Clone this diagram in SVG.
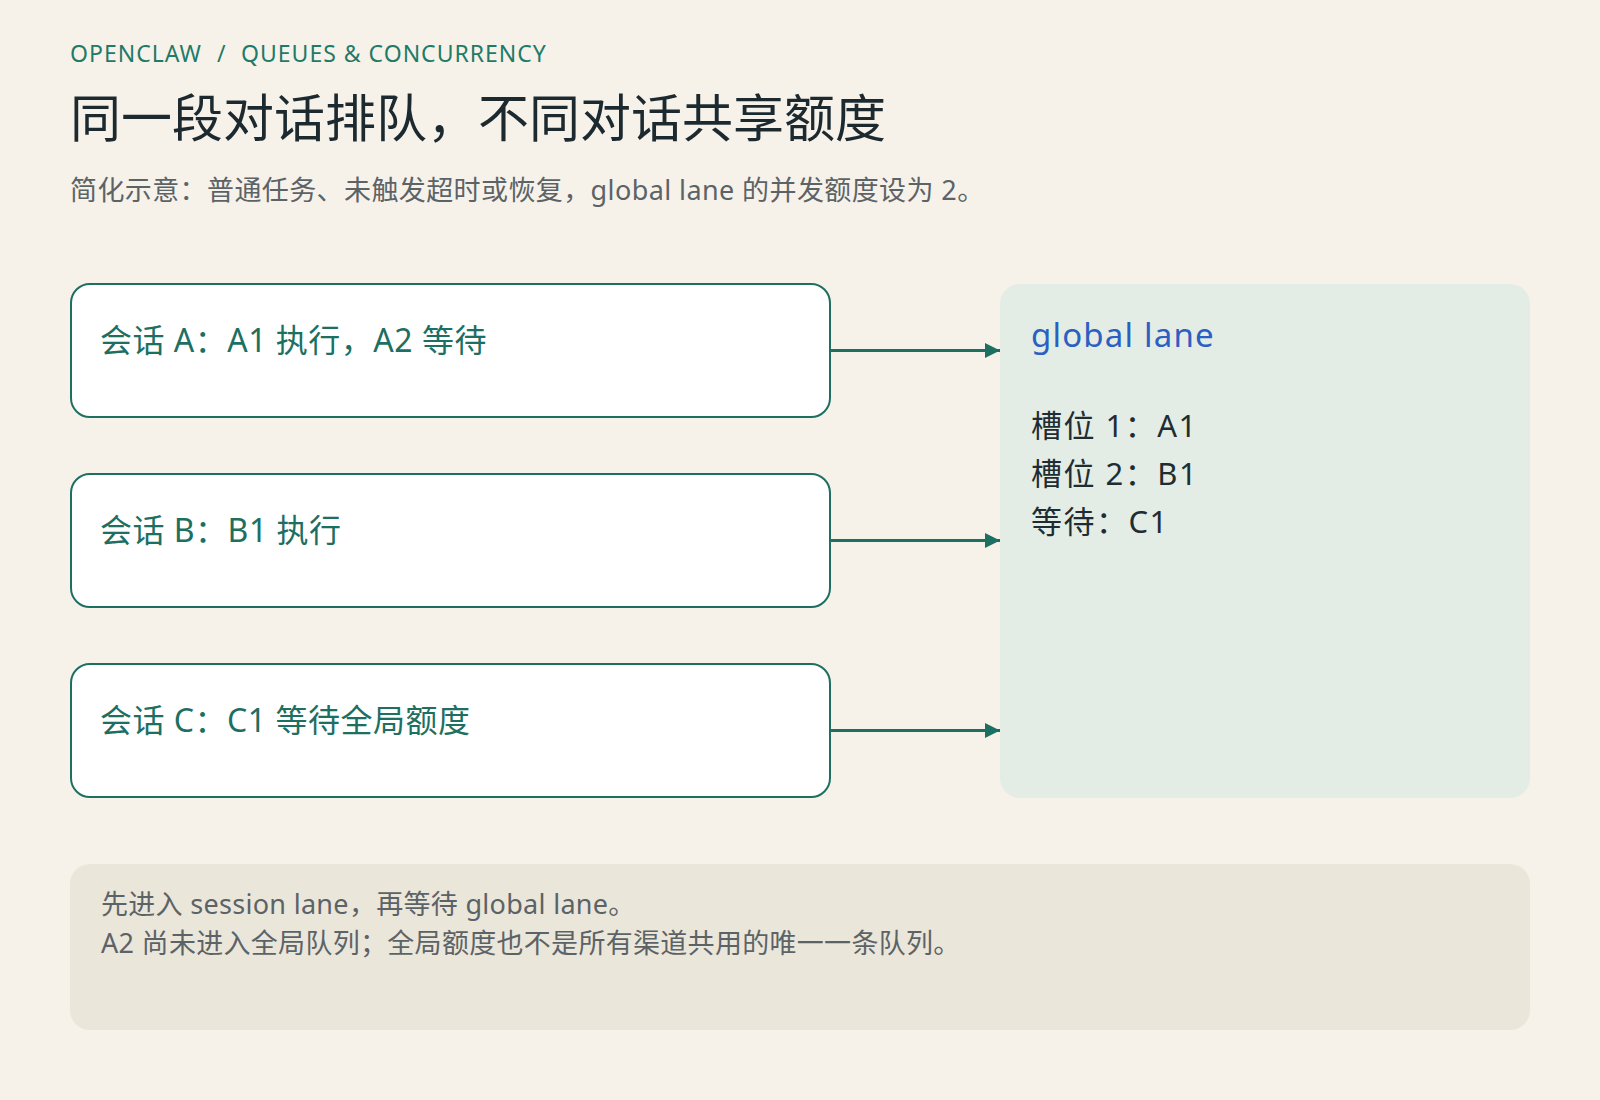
<svg xmlns="http://www.w3.org/2000/svg" width="1600" height="1100" viewBox="0 0 1600 1100">
<defs>
<style>
text{font-family:"Noto Sans","Noto Sans CJK SC",sans-serif;}
.eyebrow{font-size:23px;fill:#1f7a68;letter-spacing:1px;}
.title{font-size:51px;fill:#1c2a30;}
.sub{font-size:27px;fill:#5c6367;letter-spacing:0.4px;}
.session{fill:#ffffff;stroke:#1d6f62;stroke-width:2;}
.stext{font-size:32px;fill:#1d6f62;letter-spacing:0.5px;}
.lane{fill:#e3ece5;}
.lanetitle{font-size:33px;fill:#2b5fc2;letter-spacing:1.2px;}
.slot{font-size:31px;fill:#1f2d33;letter-spacing:1.5px;}
.note{fill:#ebe6da;}
.ntext{font-size:27px;fill:#5c6367;letter-spacing:0.3px;}
.conn{stroke:#1d6f62;stroke-width:3;fill:none;}
</style>
<marker id="arrow" viewBox="0 0 10 10" refX="10" refY="5" markerWidth="5" markerHeight="5" markerUnits="strokeWidth" orient="auto">
<path d="M0,0 L10,5 L0,10 z" fill="#1d6f62"/>
</marker>
</defs>
<rect x="0" y="0" width="1600" height="1100" fill="#f6f2ea"/>
<g id="header">
<text class="eyebrow" y="62"><tspan x="70">OPENCLAW</tspan><tspan x="217">/</tspan><tspan x="241">QUEUES &amp; CONCURRENCY</tspan></text>
<text class="title" x="70" y="137">同一段对话排队，不同对话共享额度</text>
<text class="sub" x="70" y="200">简化示意：普通任务、未触发超时或恢复，global lane 的并发额度设为 2。</text>
</g>
<g id="connectors">
<line class="conn" x1="831" y1="350.5" x2="1000" y2="350.5" marker-end="url(#arrow)"/>
<line class="conn" x1="831" y1="540.5" x2="1000" y2="540.5" marker-end="url(#arrow)"/>
<line class="conn" x1="831" y1="730.5" x2="1000" y2="730.5" marker-end="url(#arrow)"/>
</g>
<g id="session-a">
<rect class="session" x="71" y="284" width="759" height="133" rx="19"/>
<text class="stext" x="100" y="352">会话 A：A1 执行，A2 等待</text>
</g>
<g id="session-b">
<rect class="session" x="71" y="474" width="759" height="133" rx="19"/>
<text class="stext" x="100" y="542">会话 B：B1 执行</text>
</g>
<g id="session-c">
<rect class="session" x="71" y="664" width="759" height="133" rx="19"/>
<text class="stext" x="100" y="732">会话 C：C1 等待全局额度</text>
</g>
<g id="global-lane">
<rect class="lane" x="1000" y="284" width="530" height="514" rx="20"/>
<text class="lanetitle" x="1031" y="347">global lane</text>
<text class="slot" x="1031" y="437">槽位 1：A1</text>
<text class="slot" x="1031" y="485">槽位 2：B1</text>
<text class="slot" x="1031" y="533">等待：C1</text>
</g>
<g id="note">
<rect class="note" x="70" y="864" width="1460" height="166" rx="20"/>
<text class="ntext" x="101" y="914">先进入 session lane，再等待 global lane。</text>
<text class="ntext" x="101" y="953">A2 尚未进入全局队列；全局额度也不是所有渠道共用的唯一一条队列。</text>
</g>
</svg>
